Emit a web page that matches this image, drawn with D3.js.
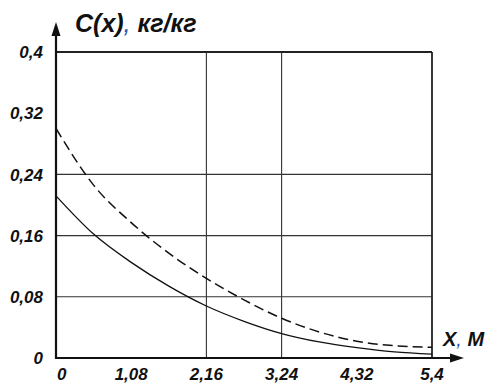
<!DOCTYPE html>
<html>
<head>
<meta charset="utf-8">
<script src="https://cdn.jsdelivr.net/npm/d3@7"></script>
<style>
  html, body { margin: 0; padding: 0; background: #fff; }
  svg { display: block; }
  text { font-family: "Liberation Sans", Arial, sans-serif; font-weight: bold; font-style: italic; fill: #111; }
</style>
</head>
<body>
<svg id="chart" width="485" height="383"></svg>
<script>
// Distance along the bed, m
const xValues = [0, 0.54, 1.08, 1.62, 2.16, 2.7, 3.24, 3.78, 4.32, 4.86, 5.4];
// Concentration profiles C(x), kg/kg
const solidSeries  = [0.212, 0.162, 0.125, 0.094, 0.068, 0.048, 0.032, 0.021, 0.0135, 0.008, 0.005];
const dashedSeries = [0.300, 0.226, 0.177, 0.137, 0.104, 0.076, 0.052, 0.034, 0.022, 0.016, 0.014];
// Axis ticks
const xTicks = [0, 1.08, 2.16, 3.24, 4.32, 5.4];
const yTicks = [0, 0.08, 0.16, 0.24, 0.32, 0.4];
const xGrid = [2.16, 3.24];
const yGrid = [0.08, 0.16, 0.24];

const fmt = v => String(v).replace(".", ",");

const svg = d3.select("#chart");
const plotLeft = 56, plotRight = 432, plotTop = 52, plotBottom = 358;

const x = d3.scaleLinear().domain([0, 5.4]).range([plotLeft, plotRight]);
const y = d3.scaleLinear().domain([0, 0.4]).range([plotBottom, plotTop]);

// Grid lines
svg.append("g").selectAll("line").data(xGrid).join("line")
  .attr("x1", d => x(d)).attr("x2", d => x(d))
  .attr("y1", plotTop).attr("y2", plotBottom)
  .attr("stroke", "#333").attr("stroke-width", 1.1);
svg.append("g").selectAll("line").data(yGrid).join("line")
  .attr("x1", plotLeft).attr("x2", plotRight)
  .attr("y1", d => y(d)).attr("y2", d => y(d))
  .attr("stroke", "#333").attr("stroke-width", 1.1);

// Frame: top and right borders
svg.append("line").attr("x1", plotLeft).attr("x2", plotRight).attr("y1", plotTop).attr("y2", plotTop)
  .attr("stroke", "#222").attr("stroke-width", 1.8);
svg.append("line").attr("x1", plotRight).attr("x2", plotRight).attr("y1", plotTop).attr("y2", plotBottom)
  .attr("stroke", "#222").attr("stroke-width", 1.8);

// Curves
const line = d3.line().x((d, i) => x(xValues[i])).y(d => y(d)).curve(d3.curveMonotoneX);
svg.append("path").datum(solidSeries).attr("d", line)
  .attr("fill", "none").attr("stroke", "#111").attr("stroke-width", 1.3);
svg.append("path").datum(dashedSeries).attr("d", line)
  .attr("fill", "none").attr("stroke", "#111").attr("stroke-width", 1.5)
  .attr("stroke-dasharray", "10,5");

// Axes with arrows
svg.append("line").attr("x1", plotLeft).attr("x2", plotLeft).attr("y1", plotBottom + 1).attr("y2", 30)
  .attr("stroke", "#111").attr("stroke-width", 2.2);
svg.append("path").attr("d", `M${plotLeft},22 L${plotLeft - 4.5},36 L${plotLeft + 4.5},36 Z`).attr("fill", "#111");
svg.append("line").attr("x1", plotLeft - 1).attr("x2", 456).attr("y1", plotBottom).attr("y2", plotBottom)
  .attr("stroke", "#111").attr("stroke-width", 2.2);
svg.append("path").attr("d", `M464,${plotBottom} L450,${plotBottom - 4.5} L450,${plotBottom + 4.5} Z`).attr("fill", "#111");

// Tick labels
svg.append("g").selectAll("text").data(yTicks).join("text")
  .attr("x", 43).attr("y", d => y(d)).attr("dy", "0.36em")
  .attr("text-anchor", "end").attr("font-size", 17)
  .text(d => fmt(d));
svg.append("g").selectAll("text").data(xTicks).join("text")
  .attr("x", d => d === 0 ? x(d) + 1 : x(d)).attr("y", 380)
  .attr("text-anchor", d => d === 0 ? "start" : "middle").attr("font-size", 17)
  .text(d => fmt(d));

// Axis titles
const yt = svg.append("text").attr("x", 75).attr("y", 32).attr("font-size", 25);
yt.append("tspan").text("C(x)");
yt.append("tspan").text(",").style("fill", "#2456a8").style("font-weight", "normal");
yt.append("tspan").text(" кг/кг");

const xt = svg.append("text").attr("x", 443).attr("y", 346).attr("font-size", 20);
xt.append("tspan").text("X");
xt.append("tspan").text(",").style("fill", "#2456a8").style("font-weight", "normal");
xt.append("tspan").text(" М");
</script>
</body>
</html>
